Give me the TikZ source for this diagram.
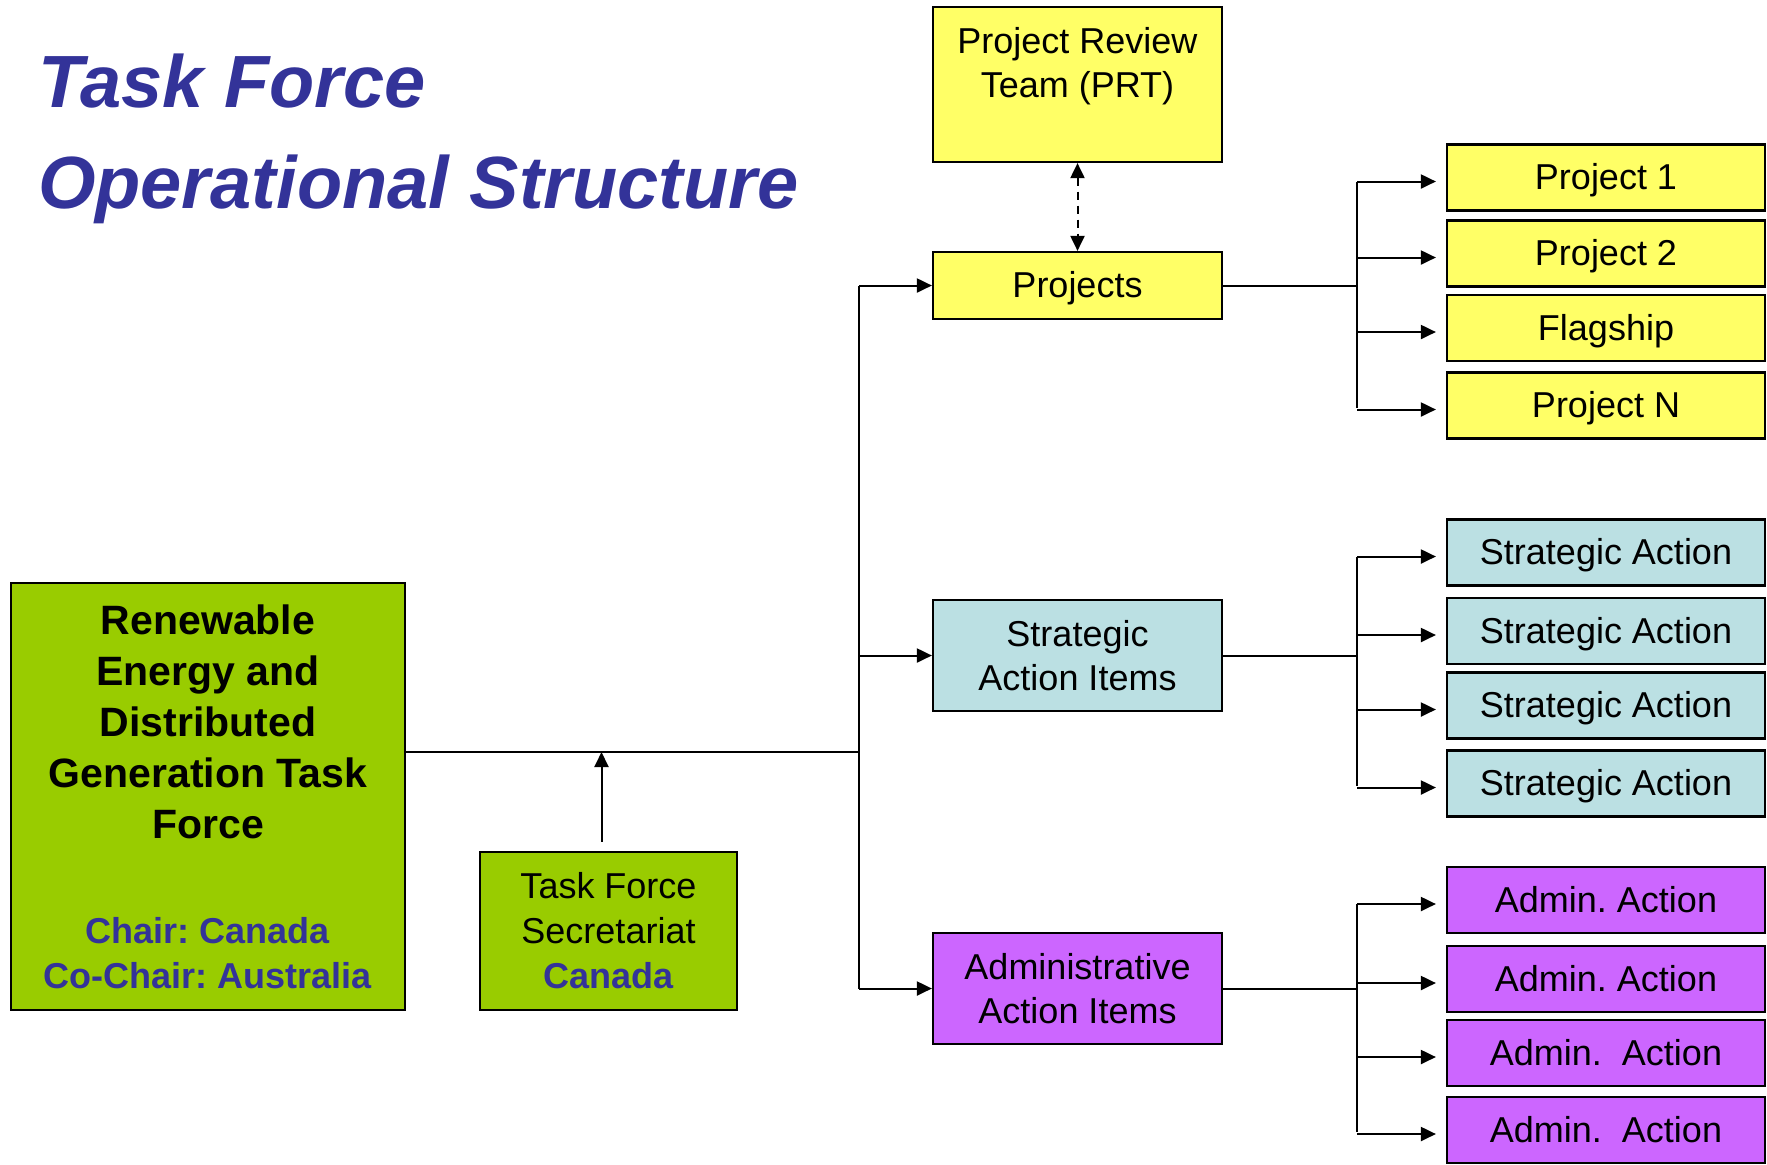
\documentclass[tikz,border=0pt]{standalone}
\usepackage{fontspec}
\setmainfont{Liberation Sans}
\usepackage{tikz}
\usetikzlibrary{positioning,arrows.meta}
\usepackage{xcolor}
\definecolor{tfblue}{HTML}{333399}
\definecolor{tfyellow}{HTML}{FFFF66}
\definecolor{tfteal}{HTML}{BBE0E3}
\definecolor{tfpurple}{HTML}{CC66FF}
\definecolor{tfgreen}{HTML}{99CC00}
\frenchspacing

\begin{document}
\begin{tikzpicture}[x=0.5pt, y=-0.5pt,
    box/.style={draw, line width=1.1pt, align=center, inner sep=1pt,
        font=\fontsize{18}{22}\selectfont},
    midbox/.style={box, minimum width=144.5pt},
    leafbox/.style={box, minimum width=159pt, minimum height=33pt,
        text height=16pt, text depth=3.8pt},
    link/.style={line width=1pt},
    tip/.tip={Triangle[length=7.5pt,width=7pt]},
    arr/.style={link, -tip},
    title/.style={anchor=base west, text=tfblue,
        font=\fontsize{37}{44}\selectfont\bfseries\itshape}]
    \useasboundingbox (0,0) rectangle (1767,1164);

    % title
    \node[title] (title1) at (31,107) {Task Force};
    \node[title] (title2) at (31,208) {Operational Structure};

    % task force and secretariat
    \node[box, fill=tfgreen, minimum width=197pt, minimum height=213.5pt,
        font=\bfseries\fontsize{20.5}{25.5}\selectfont] (main) at (208,796.5)
        {Renewable\\Energy and\\Distributed\\Generation Task\\Force\\[27pt]
         {\color{tfblue}\fontsize{18}{22.5}\selectfont Chair: Canada}\\[-3pt]
         {\color{tfblue}\fontsize{18}{22.5}\selectfont Co-Chair: Australia}};
    \node[box, fill=tfgreen, minimum width=128.5pt, minimum height=79pt,
        font=\fontsize{18}{22.5}\selectfont] (sec) at (608.5,931)
        {Task Force\\Secretariat\\{\color{tfblue}\bfseries Canada}};

    % middle column
    \node[midbox, fill=tfyellow, minimum height=77.5pt] (prt) at (1077.5,84.5)
        {Project Review\\Team (PRT)\\\mbox{}};
    \node[midbox, fill=tfyellow, minimum height=33.5pt, text height=16pt, text depth=3.8pt]
        (projects) at (1077.5,285.5) {Projects};
    \node[midbox, fill=tfteal, minimum height=55.5pt] (sai) at (1077.5,655.5) {Strategic\\Action Items};
    \node[midbox, fill=tfpurple, minimum height=55.5pt] (aai) at (1077.5,988.5) {Administrative\\Action Items};

    % leaves
    \foreach \y/\n/\t in {177.5/p1/Project 1, 253.5/p2/Project 2, 328/flag/Flagship, 405.5/pn/Project N}
        \node[leafbox, fill=tfyellow] (\n) at (1606,\y) {\t};
    \foreach \y/\n in {552.5/sa1, 631/sa2, 705.5/sa3, 783.5/sa4}
        \node[leafbox, fill=tfteal] (\n) at (1606,\y) {Strategic Action};
    \foreach \y/\n/\t in {900/ad1/Admin. Action, 979/ad2/Admin. Action, 1053/ad3/Admin.~~Action, 1130/ad4/Admin.~~Action}
        \node[leafbox, fill=tfpurple] (\n) at (1606,\y) {\t};

    % connectors
    \coordinate (hub) at (859,752);
    \coordinate (secup) at ([xshift=-3.5pt,yshift=4.5pt]sec.north);
    \draw[link] (main.east |- hub) -- (hub);
    \draw[arr] (secup) -- (secup |- hub);
    \draw[link] (hub |- projects.west) -- (hub |- aai.west);
    \foreach \n in {projects, sai, aai}
        \draw[arr] (hub |- \n.west) -- (\n.west);
    \draw[link, dash pattern=on 4pt off 3pt, tip-tip] (prt) -- (projects);

    \coordinate (pbr) at (1357,0);
    \foreach \m/\a/\b/\list in {projects/p1/pn/{p1,p2,flag,pn}, sai/sa1/sa4/{sa1,sa2,sa3,sa4}, aai/ad1/ad4/{ad1,ad2,ad3,ad4}} {
        \draw[link] (\m.east) -- (pbr |- \m.east);
        \draw[link] ([yshift=-2pt]pbr |- \a.west) -- ([yshift=-1pt]pbr |- \b.west);
        \foreach \n in \list
            \draw[arr, shorten >=5pt] ([yshift=-2pt]pbr |- \n.west) -- ([yshift=-2pt]\n.west);
    }
\end{tikzpicture}
\end{document}
